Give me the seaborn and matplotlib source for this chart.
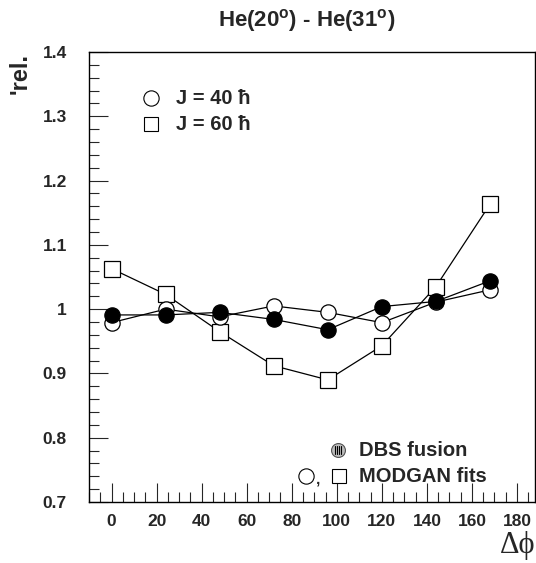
import pandas as pd
import matplotlib
matplotlib.use("Agg")
import matplotlib.pyplot as plt
import seaborn as sns
from matplotlib.ticker import MultipleLocator, FixedLocator

# data
delta_phi = [0, 24, 48, 72, 96, 120, 144, 168]
dbs_fusion = [0.991, 0.991, 0.995, 0.984, 0.968, 1.004, 1.012, 1.044]
modgan_j40 = [0.979, 1.000, 0.988, 1.005, 0.995, 0.979, 1.011, 1.030]
modgan_j60 = [1.063, 1.023, 0.965, 0.912, 0.890, 0.943, 1.035, 1.163]

y_ticks = [0.7, 0.8, 0.9, 1.0, 1.1, 1.2, 1.3, 1.4]
y_ticklabels = ["0.7", "0.8", "0.9", "1", "1.1", "1.2", "1.3", "1.4"]
x_ticks = [0, 20, 40, 60, 80, 100, 120, 140, 160, 180]

sns.set_style("ticks")
plt.rcParams["font.family"] = ["Liberation Sans", "DejaVu Sans"]
plt.rcParams["font.weight"] = "bold"
plt.rcParams["mathtext.fontset"] = "custom"
plt.rcParams["mathtext.rm"] = "Liberation Sans:bold"
plt.rcParams["mathtext.bf"] = "Liberation Sans:bold"

W, H = 536, 563
fig = plt.figure(figsize=(W / 100, H / 100), dpi=100)
ax = fig.add_axes([89 / W, 1 - 502 / H, 446 / W, 450 / H])


def fx(px):
    return px / W


def fy(py):
    return 1 - py / H


df = pd.DataFrame({"dphi": delta_phi, "dbs": dbs_fusion,
                   "j40": modgan_j40, "j60": modgan_j60})

line_kw = dict(color="black", lw=0.9, markeredgecolor="black",
               markeredgewidth=0.9)
sns.lineplot(data=df, x="dphi", y="j60", ax=ax, marker="s",
             markerfacecolor="white", markersize=11, **line_kw)
sns.lineplot(data=df, x="dphi", y="j40", ax=ax, marker="o",
             markerfacecolor="white", markersize=11, **line_kw)
sns.lineplot(data=df, x="dphi", y="dbs", ax=ax, marker="o",
             markerfacecolor="black", markersize=11, **line_kw)

ax.set_xlim(-10, 188)
ax.set_ylim(0.7, 1.4)
ax.xaxis.set_major_locator(FixedLocator(x_ticks))
ax.xaxis.set_minor_locator(MultipleLocator(5))
ax.yaxis.set_major_locator(FixedLocator(y_ticks))
ax.yaxis.set_minor_locator(MultipleLocator(0.02))
ax.set_yticklabels(y_ticklabels)
ax.tick_params(which="both", direction="in", top=False, right=False,
               labelsize=12.5, width=0.8)
ax.tick_params(which="major", length=14)
ax.tick_params(axis="y", which="major", pad=16)
ax.tick_params(axis="x", which="major", pad=9)
ax.tick_params(which="minor", length=7)
for lab in ax.get_xticklabels() + ax.get_yticklabels():
    lab.set_fontweight("bold")
for s in ax.spines.values():
    s.set_linewidth(1.0)
    s.set_color("black")
ax.set_xlabel("")
ax.set_ylabel("")

# titles and axis labels
fig.text(fx(307), fy(21), r"He(20$^{\mathrm{o}}$) - He(31$^{\mathrm{o}}$)",
         ha="center", va="center", fontsize=16, fontweight="bold")
fig.text(fx(20), fy(74), "'rel.", rotation=90, ha="center", va="center",
         fontsize=17, fontweight="bold")
fig.text(fx(518), fy(546), "Δϕ", ha="center", va="center", fontsize=22,
         family=["Liberation Serif", "DejaVu Serif"], fontweight="normal")

# in-plot legends
fig.lines.append(plt.Line2D([fx(151)], [fy(98)], marker="o", ms=11,
                            mfc="white", mec="black", mew=0.8,
                            transform=fig.transFigure))
fig.lines.append(plt.Line2D([fx(151)], [fy(124)], marker="s", ms=10.5,
                            mfc="white", mec="black", mew=0.8,
                            transform=fig.transFigure))
fig.text(fx(176), fy(98), "J = 40 ħ", va="center", fontsize=14.5,
         fontweight="bold")
fig.text(fx(176), fy(124), "J = 60 ħ", va="center", fontsize=14.5,
         fontweight="bold")

fig.add_artist(plt.Line2D([fx(338)], [fy(450)], marker="o", ms=10,
                          mfc="#bbbbbb", mec="#555555", mew=0.8,
                          transform=fig.transFigure))
for dx in (-3, -1, 1, 3):
    fig.add_artist(plt.Line2D([fx(338 + dx)] * 2, [fy(446), fy(454)],
                              color="black", lw=0.8,
                              transform=fig.transFigure))
fig.lines.append(plt.Line2D([fx(306)], [fy(476)], marker="o", ms=11,
                            mfc="white", mec="black", mew=0.8,
                            transform=fig.transFigure))
fig.text(fx(316), fy(480), ",", va="center", fontsize=11, fontweight="bold")
fig.lines.append(plt.Line2D([fx(339)], [fy(476)], marker="s", ms=10.5,
                            mfc="white", mec="black", mew=0.8,
                            transform=fig.transFigure))
fig.text(fx(359), fy(450), "DBS fusion", va="center", fontsize=14.5,
         fontweight="bold")
fig.text(fx(359), fy(476), "MODGAN fits", va="center", fontsize=14.5,
         fontweight="bold")

fig.savefig("out.png", dpi=100)
